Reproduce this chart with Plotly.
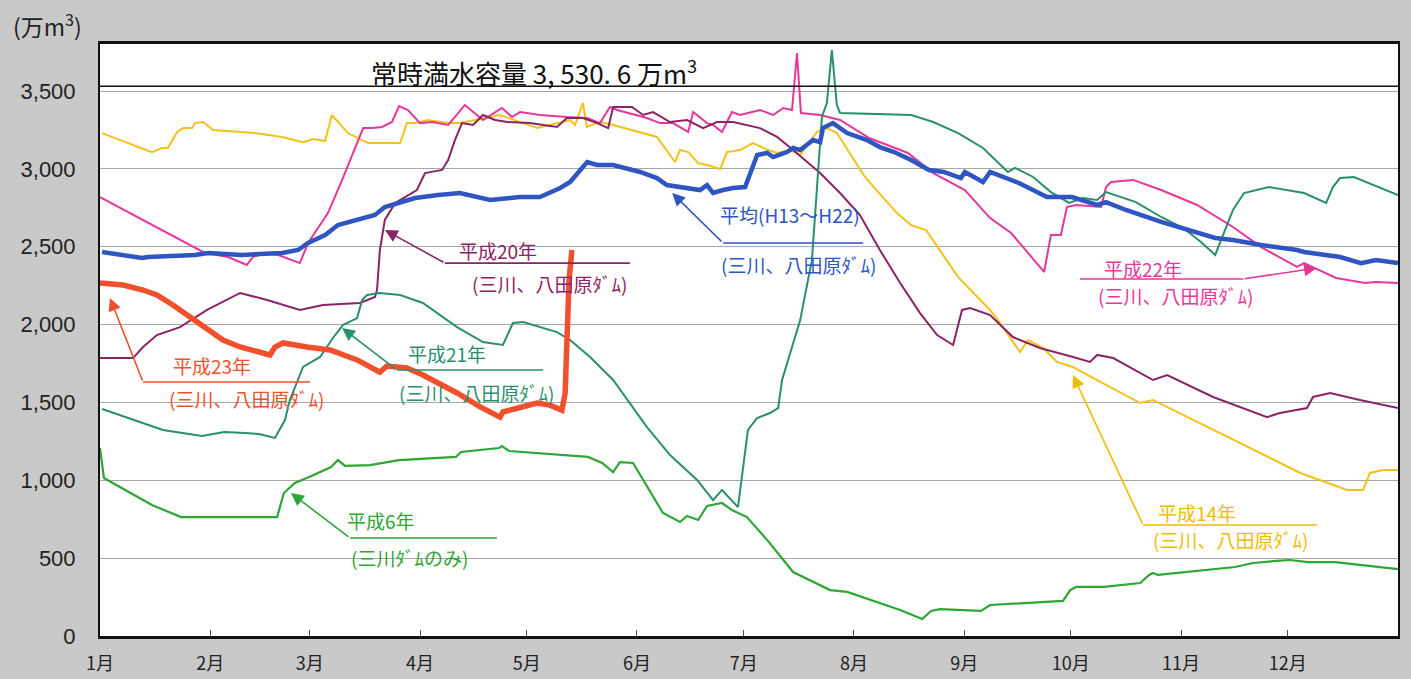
import plotly.graph_objects as go

# ---- axis data ----
month_days = [0, 31, 59, 90, 120, 151, 181, 212, 243, 273, 304, 334]
month_labels = ["1月", "2月", "3月", "4月", "5月", "6月", "7月", "8月", "9月", "10月", "11月", "12月"]
y_ticks = [0, 500, 1000, 1500, 2000, 2500, 3000, 3500]
y_tick_labels = ["0", "500", "1,000", "1,500", "2,000", "2,500", "3,000", "3,500"]
capacity = 3530.6

# ---- series (day of year, 万m3) ----
h14_day = [0.6, 14.6, 17.4, 19.1, 21.7, 23.3, 25.9, 26.7, 29.0, 31.8, 43.6, 51.2, 57.1, 59.9, 63.3, 65.2, 69.7, 75.4, 84.4, 86.3, 88.6, 92.2, 97.9,
           101.2, 112.5, 122.9, 132.2, 133.6, 135.8, 136.9, 140.6, 144.3, 156.6, 161.7, 163.1, 165.4, 168.2, 170.7, 174.4, 176.3, 180.0, 183.6,
           187.9, 190.4, 194.0, 196.9, 201.6, 204.4, 207.2, 215.1, 217.1, 224.1, 228.1, 232.3, 241.3, 250.3, 253.1, 258.7, 261.0, 265.2, 269.1,
           273.6, 279.2, 292.5, 296.1, 313.0, 337.5, 350.7, 355.2, 357.1, 360.8, 365]
h14_val = [3230, 3108, 3134, 3134, 3237, 3262, 3262, 3294, 3301, 3250, 3230, 3205, 3172, 3192, 3179, 3346, 3230, 3166, 3166, 3294, 3294, 3314, 3294,
           3294, 3346, 3262, 3314, 3282, 3423, 3269, 3301, 3282, 3205, 3044, 3121, 3108, 3037, 3025, 2999, 3108, 3121, 3166,
           3121, 3102, 3121, 3089, 3237, 3262, 3230, 2948, 2896, 2716, 2639, 2607, 2305, 2094, 2010, 1824, 1901, 1850, 1760,
           1728, 1657, 1496, 1516, 1323, 1047, 938, 938, 1047, 1066, 1066]

h22_day = [0, 29.5, 36.0, 41.3, 43.0, 46.4, 50.1, 56.2, 58.5, 64.1, 68.1, 74.0, 76.5, 79.3, 82.1, 84.1, 86.6, 90.0, 93.4, 97.9, 102.6, 107.7,
           113.0, 115.9, 118.1, 123.7, 131.3, 137.0, 140.6, 143.4, 145.4, 153.8, 157.5, 161.1, 165.4, 166.8, 170.7, 172.4, 174.9, 177.7, 180.0,
           185.6, 189.3, 192.1, 194.6, 196.0, 197.1, 202.5, 208.1, 216.3, 227.2, 234.3, 243.2, 250.3, 256.2, 265.5, 267.4, 270.2, 271.9, 274.5,
           281.5, 282.9, 284.3, 290.5, 298.4, 308.5, 318.6, 326.5, 336.6, 338.6, 347.6, 355.7, 358.8, 365]
h22_val = [2819, 2460, 2434, 2383, 2434, 2460, 2447, 2395, 2524, 2716, 2929, 3262, 3262, 3269, 3301, 3404, 3378, 3294, 3301, 3282, 3410, 3314,
           3391, 3333, 3365, 3346, 3333, 3327, 3294, 3397, 3378, 3327, 3294, 3294, 3237, 3365, 3294, 3282, 3237, 3365, 3346,
           3378, 3346, 3391, 3378, 3744, 3359, 3346, 3314, 3198, 3102, 2973, 2864, 2684, 2588, 2338, 2575, 2575, 2755, 2768,
           2755, 2883, 2916, 2929, 2864, 2768, 2627, 2498, 2370, 2395, 2299, 2267, 2273, 2267]

h20_day = [0, 9.3, 12.1, 16.0, 22.5, 30.1, 39.4, 47.0, 56.2, 62.7, 73.1, 77.3, 77.9, 78.7, 80.1, 83.0, 85.8, 89.1, 91.4, 96.2, 97.9, 99.8,
           101.8, 104.9, 107.7, 111.1, 114.5, 120.9, 128.5, 131.3, 135.8, 139.8, 142.9, 144.3, 149.6, 152.7, 155.5, 160.3, 165.1, 169.6, 173.5,
           178.0, 185.6, 190.4, 194.9, 202.5, 208.1, 213.7, 219.3, 225.0, 230.6, 235.4, 239.9, 242.4, 244.7, 250.3, 256.7, 264.3, 273.6, 278.4,
           280.4, 284.9, 296.1, 300.1, 313.0, 320.6, 328.2, 331.8, 339.4, 341.1, 345.9, 354.3, 365]
h20_val = [1785, 1785, 1856, 1933, 1984, 2094, 2203, 2158, 2094, 2126, 2139, 2177, 2222, 2479, 2672, 2781, 2819, 2864, 2973, 2993, 3057, 3185,
           3294, 3282, 3346, 3314, 3301, 3294, 3269, 3327, 3327, 3294, 3262, 3397, 3397, 3346, 3365, 3301, 3314, 3262, 3301,
           3301, 3262, 3205, 3121, 2973, 2845, 2704, 2479, 2267, 2074, 1933, 1869, 2094, 2106, 2061, 1920, 1850, 1792, 1760,
           1805, 1785, 1644, 1676, 1535, 1471, 1406, 1432, 1464, 1535, 1561, 1516, 1464]

h21_day = [0.6, 17.7, 28.7, 34.9, 40.8, 44.7, 49.2, 52.0, 53.4, 57.1, 61.9, 65.5, 68.3, 72.3, 73.7, 75.1, 78.7, 84.4, 90.8, 100.4, 107.7,
           113.3, 116.1, 119.0, 128.5, 132.2, 137.8, 144.3, 153.8, 160.3, 167.9, 172.4, 174.9, 179.4, 182.2, 184.8, 188.4, 190.7, 191.8,
           196.9, 200.2, 201.9, 203.0, 204.4, 205.8, 207.2, 208.1, 228.1, 234.3, 241.3, 248.3, 255.3, 257.3, 262.4, 267.4, 272.5, 276.4,
           280.4, 282.9, 291.3, 298.4, 304.6, 309.6, 313.6, 315.5, 318.6, 321.7, 328.7, 338.6, 344.8, 346.7, 348.7, 352.6, 365]
h21_val = [1458, 1323, 1284, 1310, 1304, 1297, 1272, 1387, 1516, 1728, 1792, 1914, 1997, 2042, 2158, 2190, 2203, 2190, 2139, 1984, 1888,
           1869, 2010, 2017, 1952, 1901, 1792, 1644, 1342, 1162, 1002, 873, 938, 828, 1323, 1400, 1432, 1464, 1644,
           2029, 2415, 2993, 3333, 3423, 3763, 3410, 3359, 3346, 3301, 3230, 3134, 2980, 3006, 2948, 2851, 2781, 2813,
           2800, 2851, 2787, 2691, 2620, 2530, 2447, 2556, 2736, 2845, 2883, 2845, 2781, 2883, 2941, 2948, 2832]

h6_day = [0, 1.1, 14.6, 22.8, 30.7, 49.8, 51.7, 54.8, 58.8, 65.0, 66.9, 68.9, 75.9, 84.1, 100.1, 101.5, 112.2, 113.0, 115.0, 137.2,
          141.2, 144.3, 146.2, 149.9, 158.3, 163.1, 165.1, 168.2, 170.7, 174.9, 177.7, 181.9, 187.6, 194.9, 205.3, 210.1, 225.0, 230.0,
          231.2, 233.7, 236.2, 247.7, 250.3, 270.8, 272.8, 274.5, 282.3, 292.5, 295.0, 296.1, 297.5, 319.2, 324.2, 330.7, 334.6, 339.7,
          347.3, 365]
h6_val = [1207, 1015, 841, 764, 764, 764, 918, 983, 1021, 1085, 1130, 1092, 1098, 1130, 1150, 1182, 1207, 1220, 1188, 1150,
          1111, 1053, 1117, 1111, 790, 732, 771, 745, 835, 854, 809, 764, 617, 411, 295, 283, 167, 122,
          109, 161, 173, 161, 199, 225, 295, 315, 315, 340, 392, 405, 392, 443, 469, 482, 488, 475,
          475, 430]

avg_day = [0.6, 11.8, 13.5, 26.7, 30.4, 39.9, 51.2, 55.7, 58.5, 63.3, 66.9, 73.7, 77.3, 80.1, 84.9, 88.6, 95.1, 101.2, 109.7, 118.1,
           123.7, 129.4, 132.2, 137.0, 139.8, 144.3, 151.9, 156.6, 159.4, 165.1, 168.7, 170.7, 172.4, 175.2, 178.0, 181.4, 184.8, 187.6,
           189.3, 193.2, 194.9, 196.9, 200.5, 202.5, 203.3, 206.1, 210.1, 215.7, 219.3, 223.3, 228.1, 233.1, 237.3, 242.1, 243.2, 248.3,
           250.3, 258.4, 266.3, 273.3, 280.4, 282.9, 288.5, 298.4, 308.5, 313.6, 318.6, 326.5, 336.6, 338.6, 348.7, 354.6, 358.8, 365]
avg_val = [2466, 2428, 2434, 2447, 2460, 2447, 2460, 2479, 2524, 2575, 2639, 2684, 2704, 2755, 2787, 2813, 2832, 2845, 2800, 2819,
           2819, 2877, 2916, 3044, 3025, 3025, 2980, 2941, 2896, 2877, 2864, 2896, 2845, 2864, 2877, 2883, 3089, 3102,
           3076, 3108, 3134, 3121, 3185, 3172, 3262, 3294, 3230, 3185, 3140, 3108, 3057, 2993, 2980, 2941, 2980, 2916,
           2980, 2909, 2819, 2819, 2768, 2787, 2736, 2659, 2588, 2556, 2543, 2511, 2479, 2466, 2434, 2395, 2415, 2395]

h23_day = [0, 6.5, 12.1, 16.0, 20.5, 27.3, 34.6, 39.4, 44.2, 47.8, 49.2, 51.5, 58.2, 64.7, 72.3, 78.7, 80.7, 86.3, 90.8, 100.4,
           106.9, 112.5, 113.3, 117.3, 122.9, 126.5, 129.9, 130.8, 131.9, 132.7]
h23_val = [2267, 2254, 2222, 2190, 2126, 2017, 1901, 1856, 1824, 1805, 1856, 1882, 1856, 1837, 1773, 1695, 1734, 1721, 1676, 1561,
           1471, 1406, 1439, 1464, 1496, 1483, 1451, 1561, 2286, 2479]

C_H14 = "#f2c21a"
C_H22 = "#e8379a"
C_H20 = "#8a2565"
C_H21 = "#2a8f6c"
C_H6 = "#2ea635"
C_AVG = "#2e55c2"
C_H23 = "#f0502c"

fig = go.Figure()
series = [
    ("平成14年", h14_day, h14_val, C_H14, 2),
    ("平成22年", h22_day, h22_val, C_H22, 2),
    ("平成20年", h20_day, h20_val, C_H20, 2),
    ("平成21年", h21_day, h21_val, C_H21, 2),
    ("平成6年", h6_day, h6_val, C_H6, 2.2),
    ("平均(H13～H22)", avg_day, avg_val, C_AVG, 4.5),
    ("平成23年", h23_day, h23_val, C_H23, 5.5),
]
for name, xd, yd, col, w in series:
    fig.add_trace(go.Scatter(x=xd, y=yd, mode="lines", name=name,
                             line=dict(color=col, width=w), hoverinfo="skip"))

JP = "Noto Sans CJK JP"
anns = []
shapes = []

# capacity line
shapes.append(dict(type="line", xref="x", yref="y", x0=0, x1=365, y0=capacity, y1=capacity,
                   line=dict(color="#111111", width=1.6)))
anns.append(dict(x=75.6, y=3625, xref="x", yref="y", text="常時満水容量 3, 530. 6 万m<sup>3</sup>",
                 showarrow=False, xanchor="left", yanchor="middle",
                 font=dict(family=JP, size=26, color="#111111")))


def label(col, head, tail, line_end, title, title_xy, sub, sub_xy, arrow_from_end=False):
    shapes.append(dict(type="line", xref="x", yref="y", x0=tail[0], x1=line_end, y0=tail[1], y1=tail[1],
                       line=dict(color=col, width=1.6)))
    start = (line_end, tail[1]) if arrow_from_end else tail
    anns.append(dict(x=head[0], y=head[1], ax=start[0], ay=start[1], xref="x", yref="y", axref="x", ayref="y",
                     text="", showarrow=True, arrowhead=2, arrowsize=1.6, arrowwidth=1.6, arrowcolor=col, standoff=0))
    anns.append(dict(x=title_xy[0], y=title_xy[1], xref="x", yref="y", text=title, showarrow=False,
                     font=dict(family=JP, size=19, color=col)))
    anns.append(dict(x=sub_xy[0], y=sub_xy[1], xref="x", yref="y", text=sub, showarrow=False,
                     font=dict(family=JP, size=19, color=col)))


DAMS = "(三川、八田原ﾀﾞﾑ)"
label(C_H23, (2.8, 2171), (12.1, 1631), 59.1, "平成23年", (31.5, 1740), DAMS, (41.3, 1528))
label(C_H21, (68.1, 1978), (83.5, 1708), 124.6, "平成21年", (97.6, 1817), DAMS, (106.0, 1567))
label(C_H6, (53.7, 918), (70.3, 629), 111.6, "平成6年", (79.0, 745), "(三川ﾀﾞﾑのみ)", (86.9, 501))
label(C_H20, (80.1, 2607), (97.0, 2395), 149.0, "平成20年", (112.0, 2475), DAMS, (126.5, 2267))
label(C_AVG, (160.9, 2845), (175.2, 2524), 214.6, "平均(H13～H22)", (194.0, 2704), DAMS, (196.3, 2383))
label(C_H22, (342.2, 2363), (275.6, 2293), 321.4, "平成22年", (293.3, 2363), DAMS, (302.3, 2190), arrow_from_end=True)
label("#f0bc00", (273.6, 1676), (293.3, 713), 342.2, "平成14年", (308.5, 790), DAMS, (317.8, 617))

# unit label (top-left)
anns.append(dict(xref="paper", yref="paper", x=-0.0408, y=1.032, xanchor="center", yanchor="middle",
                 text="(万m<sup>3</sup>)", showarrow=False, font=dict(family=JP, size=23, color="#222222")))

fig.update_layout(
    width=1411, height=679,
    margin=dict(l=100, r=13, t=44, b=43),
    paper_bgcolor="#c9c9c9",
    plot_bgcolor="#ffffff",
    showlegend=False,
    annotations=anns,
    shapes=shapes,
)
fig.update_xaxes(range=[0, 365], tickvals=month_days, ticktext=month_labels, automargin=False,
                 showgrid=False, zeroline=False, showline=True, mirror=True,
                 linecolor="#111111", linewidth=2.5, ticks="inside", ticklen=6, tickcolor="#555555",
                 ticklabelstandoff=10,
                 tickfont=dict(family=JP, size=18, color="#222222"))
fig.update_yaxes(range=[0, 3802], tickvals=y_ticks, ticktext=y_tick_labels, automargin=False,
                 showgrid=True, gridcolor="#a8a8a8", gridwidth=1, zeroline=False,
                 showline=True, mirror=True, linecolor="#111111", linewidth=2,
                 ticks="", ticklabelstandoff=18,
                 tickfont=dict(family="Liberation Sans", size=22, color="#222222"))

fig.write_html("out.html", config={"displayModeBar": False},
               post_script="document.body.style.margin='0';document.body.style.overflow='hidden';")
